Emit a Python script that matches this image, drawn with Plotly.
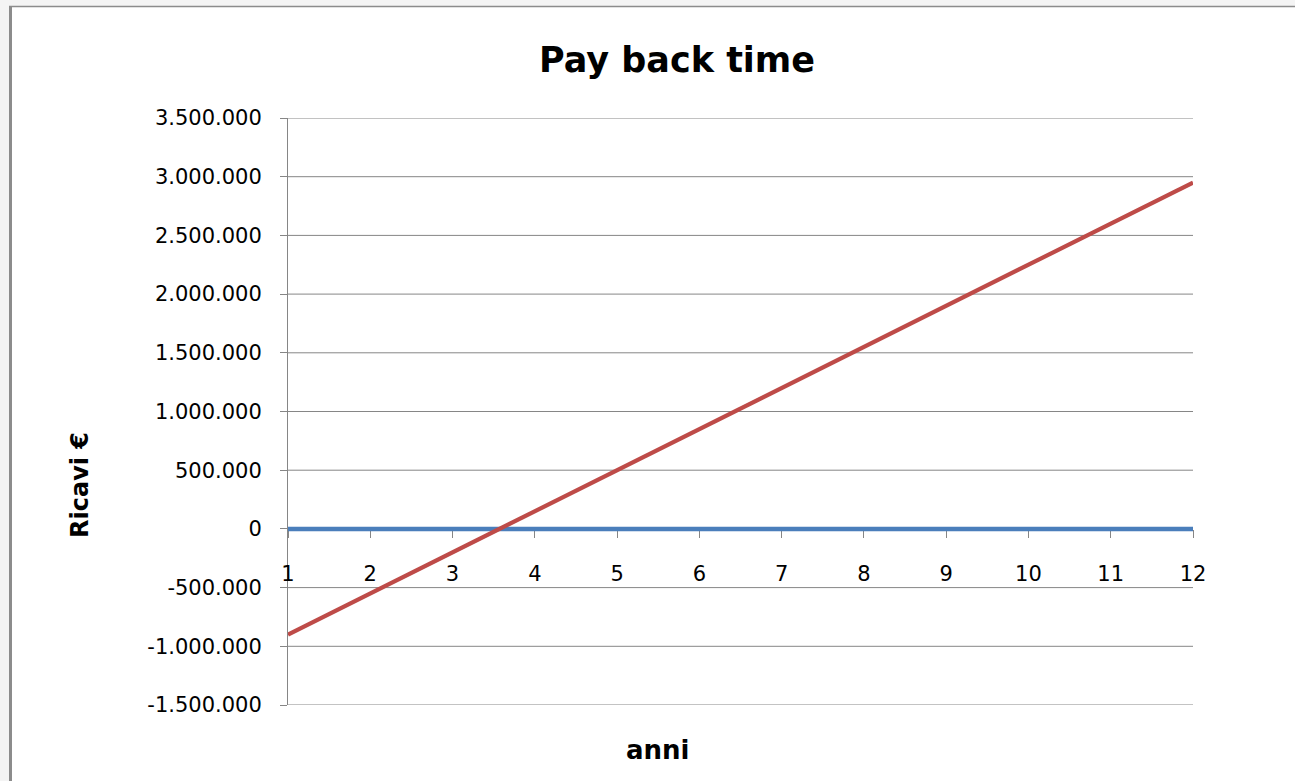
import plotly.graph_objects as go

# ---- data ----
anni = [1, 2, 3, 4, 5, 6, 7, 8, 9, 10, 11, 12]
ricavi = [-900000, -550000, -200000, 150000, 500000, 850000,
          1200000, 1550000, 1900000, 2250000, 2600000, 2950000]
zero_line = [0, 0, 0, 0, 0, 0, 0, 0, 0, 0, 0, 0]
y_tick_vals = [-1500000, -1000000, -500000, 0, 500000, 1000000,
               1500000, 2000000, 2500000, 3000000, 3500000]
y_tick_text = ["-1.500.000", "-1.000.000", "-500.000", "0", "500.000", "1.000.000",
               "1.500.000", "2.000.000", "2.500.000", "3.000.000", "3.500.000"]
x_tick_text = [str(a) for a in anni]

W, H = 1295, 781
ML, MR, MT, MB = 288, 102, 118, 76
PW, PH = W - ML - MR, H - MT - MB

def px_x(px):
    return (px - ML) / PW

def px_y(py):
    return (H - MB - py) / PH

ymin, ymax = y_tick_vals[0], y_tick_vals[-1]
grid = "#868686"
font = "DejaVu Sans"

fig = go.Figure()
fig.add_trace(go.Scatter(x=anni, y=zero_line, mode="lines",
                         line=dict(color="#4A7EBB", width=4.5), showlegend=False))
fig.add_trace(go.Scatter(x=anni, y=ricavi, mode="lines",
                         line=dict(color="#BE4B48", width=4.2), showlegend=False))

# horizontal gridlines at every y tick (including the plot edges)
grid_shapes = [
    dict(type="line", xref="paper", yref="y", x0=0, x1=1, y0=v, y1=v,
         line=dict(color=grid, width=1), layer="below")
    for v in y_tick_vals
]

fig.update_layout(
    width=W, height=H,
    margin=dict(l=ML, r=MR, t=MT, b=MB),
    paper_bgcolor="white", plot_bgcolor="white",
    showlegend=False,
    xaxis=dict(
        range=[anni[0], anni[-1]],
        tickvals=anni, ticktext=x_tick_text,
        anchor="free", position=(0 - ymin) / (ymax - ymin),
        showgrid=False, zeroline=False,
        showline=True, linecolor=grid, linewidth=1,
        ticks="outside", ticklen=8, tickcolor=grid, tickwidth=1,
        ticklabelstandoff=18,
        tickfont=dict(family=font, size=21, color="black"),
        layer="below traces",
    ),
    yaxis=dict(
        range=[ymin, ymax],
        tickvals=y_tick_vals, ticktext=y_tick_text,
        showgrid=False,
        zeroline=False,
        showline=True, linecolor=grid, linewidth=1,
        ticks="outside", ticklen=7, tickcolor=grid, tickwidth=1,
        ticklabelstandoff=14,
        tickfont=dict(family=font, size=21, color="black"),
        layer="below traces",
    ),
    annotations=[
        dict(text="<b>Pay back time</b>", xref="paper", yref="paper",
             x=px_x(677), y=px_y(60), xanchor="center", yanchor="middle",
             showarrow=False, font=dict(family=font, size=35, color="black")),
        dict(text="<b>anni</b>", xref="paper", yref="paper",
             x=px_x(657), y=px_y(750), xanchor="center", yanchor="middle",
             showarrow=False, font=dict(family=font, size=26, color="black")),
        dict(text="<b>Ricavi €</b>", xref="paper", yref="paper",
             x=px_x(80), y=px_y(485), xanchor="center", yanchor="middle",
             textangle=-90,
             showarrow=False, font=dict(family=font, size=24, color="black")),
    ],
    shapes=grid_shapes + [
        # faint background strips outside the chart frame
        dict(type="rect", xref="paper", yref="paper",
             x0=px_x(0), x1=px_x(W), y0=px_y(6), y1=px_y(0),
             fillcolor="#f4f4f4", line=dict(width=0), layer="below"),
        dict(type="rect", xref="paper", yref="paper",
             x0=px_x(0), x1=px_x(9), y0=px_y(H), y1=px_y(0),
             fillcolor="#f4f4f4", line=dict(width=0), layer="below"),
        # chart frame: top and left edges
        dict(type="line", xref="paper", yref="paper",
             x0=px_x(9), x1=px_x(W), y0=px_y(6.5), y1=px_y(6.5),
             line=dict(color="#8c8c8c", width=1.5)),
        dict(type="line", xref="paper", yref="paper",
             x0=px_x(10.5), x1=px_x(10.5), y0=px_y(H), y1=px_y(6),
             line=dict(color="#8c8c8c", width=3)),
    ],
)

fig.write_html("out.html")
